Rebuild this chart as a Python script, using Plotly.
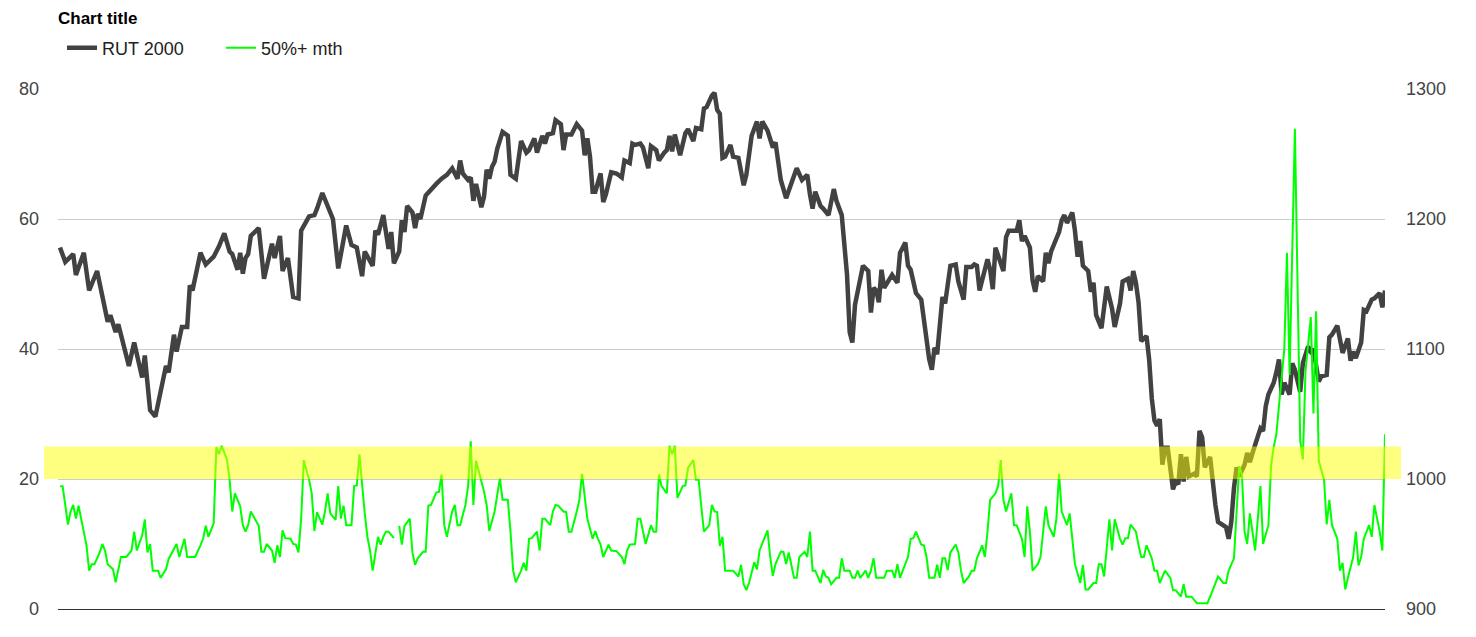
import plotly.graph_objects as go

# RUT 2000 (right axis), trading-day index and closing level
rut_day = [0, 2, 5, 6, 9, 11, 14, 18, 19, 21, 22, 26, 28, 31, 32, 34, 36, 40, 41, 43, 44, 46, 48, 49, 50, 53, 55, 58, 60, 62,
           64, 65, 67, 68, 69, 70, 71, 72, 75, 77, 80, 81, 83, 84, 86, 88, 90, 91, 94, 96, 97, 99, 103, 105, 108, 110, 112, 114, 115, 118,
           119, 120, 122, 124, 125, 126, 128, 129, 130, 131, 133, 134, 135, 136, 138, 140, 142, 144, 146, 148, 150, 151, 152, 154, 155, 156, 157, 159, 160, 161,
           162, 163, 164, 165, 167, 169, 170, 172, 174, 176, 177, 179, 180, 182, 183, 184, 186, 187, 189, 190, 191, 193, 195, 197, 198, 199, 200, 201, 202, 204,
           205, 206, 208, 210, 212, 213, 215, 216, 217, 219, 220, 222, 223, 225, 226, 228, 229, 230, 231, 232, 233, 234, 236, 237, 239, 240, 242, 243, 244, 246,
           247, 248, 249, 250, 251, 253, 254, 256, 258, 259, 261, 263, 264, 265, 267, 269, 270, 272, 274, 276, 277, 278, 280, 282, 283, 284, 285, 287, 288, 290,
           292, 293, 295, 296, 297, 298, 299, 300, 302, 303, 305, 306, 307, 308, 309, 310, 311, 313, 314, 316, 317, 319, 320, 321, 323, 325, 326, 328, 329, 330,
           331, 333, 334, 335, 336, 338, 339, 341, 342, 344, 345, 346, 347, 350, 351, 352, 353, 355, 356, 357, 358, 361, 362, 363, 364, 366, 367, 368, 369, 371,
           372, 373, 374, 375, 377, 378, 379, 380, 382, 383, 384, 385, 386, 388, 389, 390, 391, 393, 394, 395, 397, 398, 399, 400, 401, 403, 404, 405, 406, 407,
           408, 410, 411, 412, 413, 414, 415, 416, 417, 418, 420, 421, 422, 423, 424, 425, 426, 428, 429, 430, 431, 432, 434, 435, 436, 437, 439, 440, 441, 442,
           443, 444, 445, 447, 448, 449, 450, 452, 453, 454, 455, 456, 458, 459, 460, 461, 462, 464, 465, 466, 468, 469, 471, 472, 473, 475, 476, 478, 479, 480,
           482, 484, 486, 487, 488, 489, 491, 492, 493, 495, 496, 498, 499, 500]
rut_val = [1178, 1167, 1173, 1157, 1174, 1145, 1160, 1121, 1126, 1113, 1119, 1087, 1105, 1078, 1095, 1053, 1048, 1087, 1082, 1111, 1098, 1117, 1117, 1149, 1145, 1174, 1165, 1171, 1179, 1189,
           1175, 1173, 1161, 1174, 1158, 1170, 1173, 1187, 1193, 1154, 1181, 1170, 1187, 1160, 1170, 1140, 1139, 1191, 1202, 1203, 1208, 1220, 1200, 1162, 1195, 1180, 1178, 1156, 1175, 1164,
           1191, 1188, 1203, 1177, 1190, 1166, 1175, 1199, 1190, 1210, 1205, 1193, 1204, 1200, 1218, 1223, 1227, 1231, 1234, 1239, 1231, 1245, 1235, 1230, 1232, 1214, 1227, 1209, 1217, 1238,
           1231, 1240, 1244, 1254, 1267, 1264, 1234, 1231, 1260, 1251, 1253, 1262, 1251, 1264, 1258, 1265, 1266, 1276, 1273, 1253, 1265, 1265, 1273, 1268, 1249, 1262, 1248, 1221, 1221, 1235,
           1213, 1219, 1236, 1235, 1232, 1245, 1243, 1258, 1257, 1258, 1255, 1239, 1256, 1253, 1245, 1251, 1253, 1264, 1252, 1265, 1255, 1249, 1266, 1269, 1260, 1270, 1269, 1285, 1286, 1295,
           1297, 1284, 1281, 1247, 1248, 1257, 1248, 1247, 1226, 1234, 1264, 1275, 1262, 1275, 1268, 1255, 1259, 1230, 1216, 1227, 1232, 1239, 1230, 1234, 1219, 1208, 1221, 1210, 1208, 1203,
           1223, 1214, 1203, 1180, 1157, 1113, 1105, 1134, 1154, 1164, 1160, 1128, 1147, 1145, 1136, 1161, 1147, 1153, 1157, 1151, 1174, 1182, 1164, 1161, 1143, 1138, 1121, 1092, 1084, 1101,
           1096, 1140, 1135, 1152, 1164, 1165, 1152, 1138, 1163, 1163, 1165, 1164, 1145, 1169, 1161, 1146, 1178, 1166, 1160, 1186, 1191, 1191, 1199, 1183, 1187, 1178, 1153, 1144, 1156, 1152,
           1174, 1166, 1175, 1180, 1190, 1199, 1203, 1197, 1205, 1191, 1171, 1183, 1164, 1160, 1144, 1151, 1126, 1116, 1130, 1148, 1131, 1117, 1126, 1135, 1152, 1154, 1145, 1160, 1151, 1136,
           1106, 1110, 1092, 1062, 1045, 1041, 1046, 1011, 1024, 1024, 992, 998, 996, 1019, 998, 1017, 1002, 1004, 1002, 1037, 1032, 1009, 1017, 996, 980, 967, 964, 963, 954, 967,
           993, 1009, 1002, 1011, 1020, 1013, 1020, 1032, 1039, 1037, 1056, 1065, 1074, 1082, 1092, 1065, 1074, 1065, 1089, 1084, 1067, 1089, 1102, 1098, 1100, 1075, 1079, 1080, 1109, 1111,
           1118, 1097, 1108, 1091, 1098, 1093, 1105, 1130, 1129, 1138, 1139, 1143, 1132, 1145]

# 50%+ mth (left axis)
mth_day = [0, 1, 3, 4, 5, 6, 7, 9, 10, 11, 12, 13, 15, 16, 17, 18, 20, 21, 22, 23, 25, 27, 28, 29, 31, 32, 33, 34, 35, 37,
           38, 40, 41, 44, 45, 47, 48, 51, 53, 54, 55, 56, 58, 59, 60, 61, 63, 64, 65, 66, 68, 69, 70, 71, 72, 75, 76, 77, 78, 80,
           81, 82, 83, 84, 85, 87, 88, 89, 90, 91, 92, 94, 95, 96, 97, 99, 100, 101, 102, 104, 105, 106, 107, 108, 110, 111, 112, 113, 115, 116,
           117, 118, 120, 121, 122, 123, 124, 126, 127, 128, 129, 130, 132, 133, 134, 135, 137, 138, 139, 140, 142, 143, 144, 145, 146, 148, 149, 150, 151, 153,
           154, 155, 156, 157, 159, 160, 161, 162, 164, 165, 166, 167, 169, 170, 171, 172, 174, 175, 176, 177, 178, 180, 181, 182, 183, 185, 186, 187, 188, 190,
           191, 192, 193, 195, 196, 197, 198, 199, 201, 202, 203, 204, 205, 207, 208, 210, 212, 213, 214, 215, 217, 218, 219, 220, 221, 223, 224, 225, 226, 227,
           229, 230, 231, 232, 233, 235, 236, 237, 239, 240, 241, 242, 243, 245, 246, 247, 248, 249, 250, 251, 254, 256, 257, 258, 259, 260, 262, 263, 264, 266,
           267, 268, 269, 270, 272, 273, 274, 275, 277, 278, 279, 281, 282, 283, 284, 285, 287, 288, 289, 290, 291, 293, 294, 295, 296, 298, 299, 300, 301, 302,
           304, 305, 306, 307, 308, 311, 312, 314, 315, 316, 317, 318, 320, 321, 322, 323, 325, 326, 327, 328, 330, 331, 332, 333, 334, 335, 336, 338, 339, 340,
           341, 343, 344, 345, 346, 348, 349, 350, 351, 353, 354, 355, 356, 357, 359, 360, 361, 363, 364, 365, 366, 367, 369, 370, 371, 372, 373, 375, 376, 377,
           378, 380, 381, 382, 383, 385, 386, 387, 388, 390, 391, 392, 393, 394, 396, 397, 398, 400, 401, 402, 403, 404, 406, 407, 408, 409, 410, 412, 413, 414,
           415, 417, 419, 420, 421, 423, 424, 425, 427, 429, 433, 435, 436, 437, 439, 440, 441, 442, 443, 445, 446, 447, 448, 449, 451, 452, 453, 454, 456, 457,
           458, 459, 461, 462, 463, 464, 466, 467, 468, 469, 470, 472, 473, 474, 475, 477, 478, 479, 480, 482, 483, 484, 485, 486, 488, 489, 490, 491, 492, 494,
           495, 496, 498, 499, 500]
mth_val = [18.9, 18.9, 13.0, 15.0, 16.0, 13.9, 15.9, 11.9, 9.8, 5.9, 6.9, 6.9, 8.7, 10.0, 9.0, 6.9, 6.1, 4.1, 5.9, 8.0, 8.0, 9.0, 11.9, 9.0, 11.3, 13.8, 8.7, 10.0, 5.9, 5.9,
           4.8, 6.1, 7.7, 10.0, 8.0, 10.8, 8.0, 8.0, 9.8, 10.8, 12.8, 11.1, 13.2, 24.9, 23.8, 25.1, 23.0, 19.9, 15.0, 17.8, 15.8, 12.9, 11.9, 12.9, 15.0, 12.8, 8.8, 8.8, 10.0, 9.0,
           7.1, 9.8, 8.0, 12.1, 10.9, 10.8, 10.0, 9.9, 8.7, 13.9, 22.9, 19.9, 17.8, 12.0, 14.9, 13.0, 15.0, 17.8, 14.7, 13.7, 18.9, 13.9, 15.9, 12.9, 12.9, 18.9, 19.0, 23.8, 14.7, 11.1,
           9.0, 5.9, 11.1, 9.9, 11.1, 11.9, 11.9, 10.9, None, 12.8, 9.9, 12.8, 13.9, 8.7, 6.8, 7.8, 8.8, 8.8, 15.9, 16.0, 17.9, 18.0, 20.7, 12.9, 11.1, 15.0, 16.0, 12.9, 12.9, 16.0,
           18.9, 25.8, 16.0, 22.8, 19.7, 18.1, 16.0, 12.0, 15.0, 17.8, 20.1, 16.8, 16.8, 11.9, 5.9, 4.1, 5.9, 7.1, 5.9, 10.8, 10.9, 11.9, 9.0, 13.9, 13.9, 12.9, 15.0, 16.0, 15.9, 15.0,
           14.9, 11.9, 11.9, 15.0, 16.8, 20.8, 16.8, 13.9, 10.8, 12.0, 10.8, 9.9, 8.0, 9.9, 9.0, 8.9, 8.0, 6.9, 9.0, 9.9, 10.0, 13.9, 13.9, 11.9, 10.0, 12.9, 11.9, 11.9, 20.7, 18.9,
           17.8, 25.1, 23.8, 25.1, 17.1, 18.9, 19.0, 21.7, 22.9, 19.9, 19.9, 15.8, 11.9, 12.9, 16.0, 15.0, 14.9, 9.7, 11.1, 5.9, 5.9, 5.0, 6.8, 3.8, 2.9, 4.0, 7.2, 6.1, 9.0, 11.1,
           12.1, 8.0, 5.1, 6.9, 8.8, 8.8, 6.9, 8.7, 4.8, 4.8, 8.0, 8.8, 8.0, 11.9, 5.9, 5.9, 4.0, 6.0, 5.0, 4.8, 3.8, 4.8, 4.8, 7.8, 5.9, 5.9, 4.8, 4.8, 5.9, 4.8,
           5.9, 4.8, 5.9, 7.8, 4.8, 4.8, 5.9, 5.9, 4.8, 6.9, 4.8, 5.9, 8.0, 10.8, 10.9, 11.9, 9.9, 9.8, 8.0, 4.8, 4.8, 6.8, 4.8, 7.8, 7.8, 6.0, 8.7, 9.9, 8.7, 5.9,
           4.0, 5.0, 5.9, 5.9, 7.8, 9.8, 8.0, 11.9, 16.8, 17.8, 18.9, 22.9, 16.8, 15.0, 17.8, 12.9, 12.9, 10.8, 8.0, 15.8, 11.9, 5.9, 6.9, 8.0, 11.9, 15.8, 12.9, 11.1, 13.9, 20.8,
           15.0, 12.9, 14.7, 10.8, 6.9, 4.0, 6.8, 3.0, 3.0, 4.0, 4.0, 6.9, 6.9, 5.0, 13.8, 9.0, 13.8, 10.8, 9.9, 10.9, 10.9, 13.0, 11.9, 9.8, 8.0, 8.0, 9.8, 7.8, 5.9, 5.9,
           4.0, 5.9, 4.8, 2.9, 2.9, 1.9, 3.8, 1.9, 1.9, 0.9, 0.9, 2.9, 4.1, 5.0, 4.0, 4.0, 5.9, 6.9, 7.8, 22.0, 20.7, 11.9, 10.0, 14.7, 9.0, 13.9, 18.9, 10.0, 12.9, 22.0,
           24.9, 26.9, 36.0, 40.0, 54.8, 36.0, 73.9, 48.8, 25.9, 23.0, 36.6, 44.9, 30.1, 45.8, 22.8, 19.9, 13.0, 16.8, 12.9, 10.8, 5.9, 7.1, 3.0, 4.8, 8.0, 11.9, 6.7, 8.0, 10.8, 12.9,
           11.1, 16.0, 11.9, 9.0, 26.9]

left_ticks = [0, 20, 40, 60, 80]
right_ticks = [900, 1000, 1100, 1200, 1300]
band_low, band_high = 20, 25

W, H = 1476, 637
L, R, T, B = 58, 91, 89, 28
plot_w = W - L - R

fig = go.Figure()
fig.add_trace(go.Scatter(x=rut_day, y=rut_val, name="RUT 2000", mode="lines",
                         line=dict(color="#424242", width=4.5), yaxis="y", hoverinfo="skip"))
fig.add_trace(go.Scatter(x=mth_day, y=mth_val, name="50%+ mth", mode="lines",
                         line=dict(color="#00ff00", width=2), yaxis="y2", connectgaps=False,
                         hoverinfo="skip"))

fig.update_layout(
    width=W, height=H,
    margin=dict(l=L, r=R, t=T, b=B, autoexpand=False),
    paper_bgcolor="white", plot_bgcolor="white",
    font=dict(family="Liberation Sans, Arial, sans-serif", size=18, color="#444444"),
    title=dict(text="<b>Chart title</b>", x=L / W, xanchor="left", xref="container",
               y=1 - 18 / H, yanchor="middle", yref="container",
               font=dict(size=17, color="#000000")),
    showlegend=True,
    legend=dict(orientation="h", x=4 / plot_w, xanchor="left", y=(H - B - 48) / (H - T - B), yanchor="middle",
                font=dict(size=18, color="#222222"), bgcolor="rgba(0,0,0,0)",
                entrywidth=114, entrywidthmode="pixels", traceorder="normal"),
    xaxis=dict(range=[-0.75, 500], showgrid=False, zeroline=False, showticklabels=False,
               showline=True, linecolor="#333333", linewidth=1, ticks=""),
    yaxis=dict(range=[900, 1300], side="right", tickvals=right_ticks, showgrid=True,
               gridcolor="#cccccc", gridwidth=1, zeroline=False, ticks="", ticklabelstandoff=20,
               showline=False),
    yaxis2=dict(range=[0, 80], overlaying="y", side="left", tickvals=left_ticks, showgrid=False,
                zeroline=False, ticks="", ticklabelstandoff=18, showline=False),
    shapes=[dict(type="rect", xref="paper", yref="y2", x0=-14 / plot_w, x1=1 + 16 / plot_w,
                 y0=band_low, y1=band_high, fillcolor="rgba(255,255,0,0.5)",
                 line=dict(width=0), layer="above")],
)

fig.write_html("out.html", config={"displayModeBar": False},
               post_script="document.body.style.margin='0px';document.body.style.overflow='hidden';")
